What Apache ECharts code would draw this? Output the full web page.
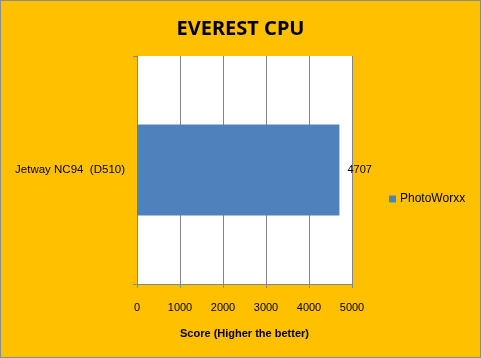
<!DOCTYPE html>
<html><head><meta charset="utf-8">
<script src="https://cdn.jsdelivr.net/npm/echarts@6/dist/echarts.min.js"></script>
<style>html,body{margin:0;padding:0;background:#fff}#c{width:481px;height:358px;box-sizing:border-box;border:1px solid #8c8c8c;}</style>
</head><body><div id="c"></div>
<script>
const categories = ['Jetway NC94  (D510)'];
const seriesName = 'PhotoWorxx';
const values = [4707];
const xTicks = [0, 1000, 2000, 3000, 4000, 5000];

const chart = echarts.init(document.getElementById('c'), null, {renderer: 'canvas'});
const font = 'Liberation Sans';
chart.setOption({
  backgroundColor: '#FFC000',
  animation: false,
  title: {
    text: 'EVEREST CPU', left: 'center', top: 13,
    textStyle: {fontFamily: 'Noto Sans', fontWeight: 'bold', fontSize: 20, color: '#000'}
  },
  legend: {
    data: [seriesName], left: 388, top: 192, orient: 'vertical', padding: 0,
    itemWidth: 7, itemHeight: 7, itemGap: 4, icon: 'rect',
    textStyle: {fontFamily: font, fontSize: 12, color: '#000', padding: [0, 0, 0, -1]}
  },
  grid: {left: 136, top: 55, width: 215, height: 228, containLabel: false,
    show: true, backgroundColor: '#FFFFFF', borderWidth: 0},
  xAxis: {
    type: 'value', min: xTicks[0], max: xTicks[xTicks.length - 1], interval: 1000,
    name: 'Score (Higher the better)', nameLocation: 'middle', nameGap: 44,
    nameTextStyle: {fontFamily: font, fontWeight: 'bold', fontSize: 11, color: '#000'},
    axisLine: {show: true, lineStyle: {color: '#868686'}},
    axisTick: {show: true, length: 4, lineStyle: {color: '#868686'}},
    axisLabel: {fontFamily: font, fontSize: 11, color: '#000', margin: 18,
      formatter: v => String(v)},
    splitLine: {show: true, lineStyle: {color: '#868686'}}
  },
  yAxis: {
    type: 'category', data: categories,
    axisLine: {show: true, lineStyle: {color: '#868686'}},
    axisTick: {show: true, length: 4, lineStyle: {color: '#868686'}},
    axisLabel: {fontFamily: font, fontSize: 11.5, color: '#000', margin: 12}
  },
  series: [{
    name: seriesName, type: 'bar', data: values, barCategoryGap: '60%',
    itemStyle: {color: '#4F81BD'},
    label: {show: true, position: 'right', distance: 8, fontFamily: font, fontSize: 11, color: '#000'}
  }]
});
</script></body></html>
